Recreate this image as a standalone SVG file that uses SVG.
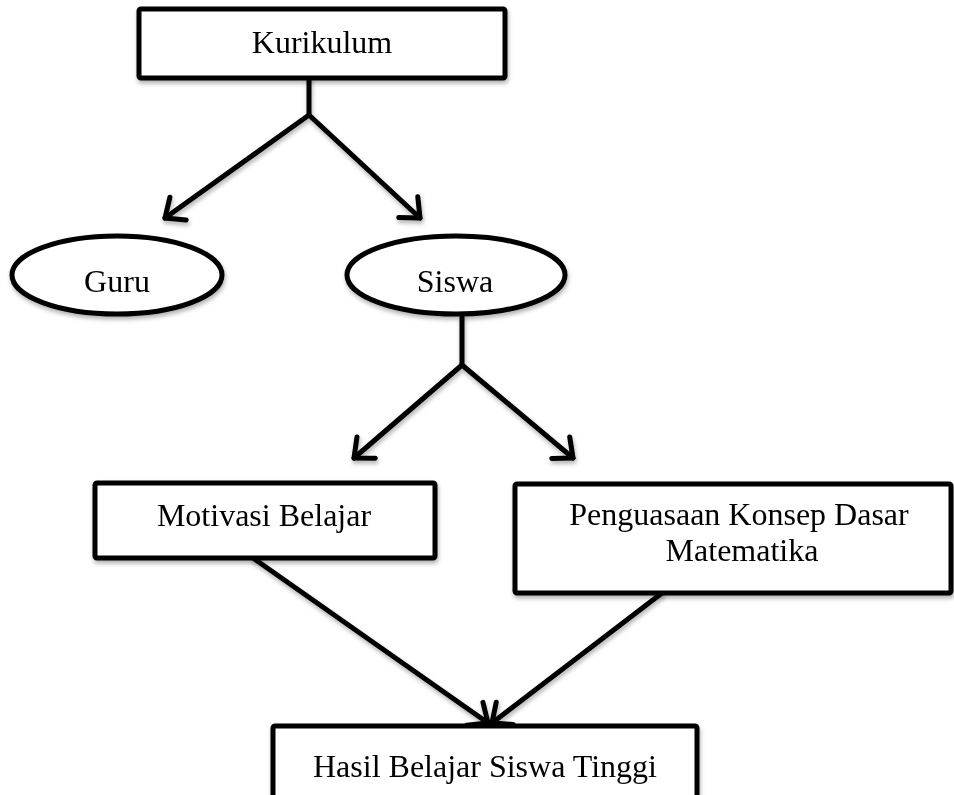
<svg xmlns="http://www.w3.org/2000/svg" width="954" height="795" viewBox="0 0 954 795">
<defs>
<style>
.box{fill:#fff;stroke:#000;stroke-width:5;}
.lbl{font-family:"Liberation Serif","Times New Roman",serif;font-size:32px;fill:#000;text-anchor:middle;}
.conn{fill:none;stroke:#000;stroke-width:5;stroke-linecap:round;stroke-linejoin:round;}
</style>
<filter id="sh" x="-10%" y="-10%" width="130%" height="130%">
<feDropShadow dx="1" dy="3" stdDeviation="2" flood-color="#000" flood-opacity="0.3"/>
</filter>
<marker id="ah" markerUnits="userSpaceOnUse" markerWidth="40" markerHeight="40" refX="20" refY="20" orient="auto" overflow="visible">
<path d="M4 6 L20 20 L4 34" fill="none" stroke="#000" stroke-width="5" stroke-linecap="round" stroke-linejoin="round"/>
</marker>
</defs>
<rect width="954" height="795" fill="#fff"/>
<g id="connectors" filter="url(#sh)">
<path class="conn" d="M309 78 L309 115"/>
<path class="conn" d="M309 115 L165 218" marker-end="url(#ah)"/>
<path class="conn" d="M309 115 L420 218" marker-end="url(#ah)"/>
<path class="conn" d="M462 315 L462 365"/>
<path class="conn" d="M462 365 L354 458" marker-end="url(#ah)"/>
<path class="conn" d="M462 365 L573 458" marker-end="url(#ah)"/>
<path class="conn" d="M253 558 L488 723" marker-end="url(#ah)"/>
<path class="conn" d="M662 593 L492 723" marker-end="url(#ah)"/>
</g>
<g id="kurikulum" filter="url(#sh)">
<rect class="box" x="139" y="9" width="366" height="69" rx="2"/>
<text class="lbl" x="322" y="53">Kurikulum</text>
</g>
<g id="guru" filter="url(#sh)">
<ellipse class="box" cx="117" cy="275" rx="105" ry="39"/>
<text class="lbl" x="117" y="292">Guru</text>
</g>
<g id="siswa" filter="url(#sh)">
<ellipse class="box" cx="456" cy="275" rx="109" ry="39"/>
<text class="lbl" x="455" y="292">Siswa</text>
</g>
<g id="motivasi" filter="url(#sh)">
<rect class="box" x="95" y="483" width="340" height="75" rx="2"/>
<text class="lbl" x="264" y="526">Motivasi Belajar</text>
</g>
<g id="penguasaan" filter="url(#sh)">
<rect class="box" x="515" y="484" width="436" height="109" rx="2"/>
<text class="lbl" x="739" y="525">Penguasaan Konsep Dasar</text>
<text class="lbl" x="742" y="561">Matematika</text>
</g>
<g id="hasil" filter="url(#sh)">
<rect class="box" x="273" y="726" width="424" height="80" rx="2"/>
<text class="lbl" x="485" y="777">Hasil Belajar Siswa Tinggi</text>
</g>
</svg>
